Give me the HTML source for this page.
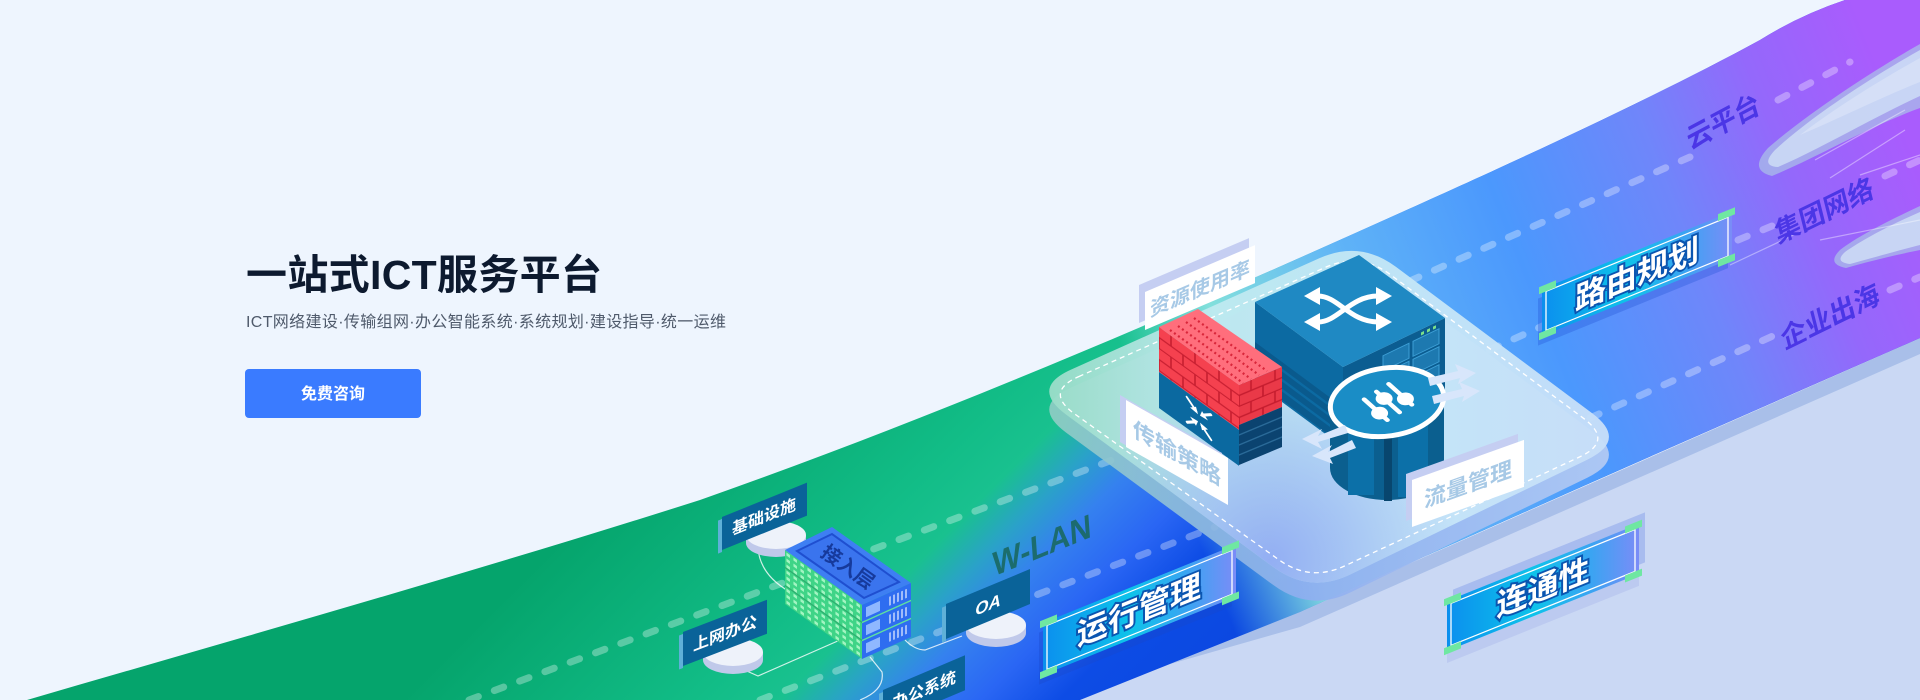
<!DOCTYPE html>
<html><head><meta charset="utf-8">
<style>
html,body{margin:0;padding:0;width:1920px;height:700px;overflow:hidden;background:#eef5fe;}
svg{display:block;}
text{font-family:"Liberation Sans","Noto Sans CJK SC",sans-serif;}
</style></head><body>
<svg width="1920" height="700" viewBox="0 0 1920 700" xmlns="http://www.w3.org/2000/svg">
<defs>
 <linearGradient id="g1" gradientUnits="userSpaceOnUse" x1="500" y1="500" x2="1000" y2="1000">
  <stop offset="0.10" stop-color="#05a46c"/>
  <stop offset="0.40" stop-color="#12bd87"/>
  <stop offset="0.48" stop-color="#19c18f"/>
  <stop offset="0.54" stop-color="#2aa2c8"/>
  <stop offset="0.60" stop-color="#3581ef"/>
  <stop offset="0.68" stop-color="#2a66f4"/>
  <stop offset="0.76" stop-color="#0d4ce5"/>
  <stop offset="1" stop-color="#0a44dc"/>
 </linearGradient>
 <linearGradient id="g2" gradientUnits="userSpaceOnUse" x1="1150" y1="420" x2="1900" y2="120">
  <stop offset="0" stop-color="#7fe0e0" stop-opacity="0"/>
  <stop offset="0.12" stop-color="#8ae4df" stop-opacity="0.92"/>
  <stop offset="0.30" stop-color="#5fb3f7" stop-opacity="1"/>
  <stop offset="0.50" stop-color="#4b98fd"/>
  <stop offset="0.70" stop-color="#6f86fa"/>
  <stop offset="0.85" stop-color="#9468fb"/>
  <stop offset="1" stop-color="#a95cfd"/>
 </linearGradient>
 <linearGradient id="pfg" gradientUnits="userSpaceOnUse" x1="1040" y1="0" x2="1620" y2="0">
  <stop offset="0" stop-color="#98dcc6"/>
  <stop offset="0.3" stop-color="#bfeaf0"/>
  <stop offset="0.7" stop-color="#c6e6f8"/>
  <stop offset="1" stop-color="#c8def9"/>
 </linearGradient>
 <radialGradient id="pfb" gradientUnits="userSpaceOnUse" cx="1270" cy="560" r="190">
  <stop offset="0" stop-color="#8ea8f3" stop-opacity="0.9"/>
  <stop offset="1" stop-color="#8ea8f3" stop-opacity="0"/>
 </radialGradient>
 <linearGradient id="pfs" gradientUnits="userSpaceOnUse" x1="1030" y1="0" x2="1630" y2="0">
  <stop offset="0" stop-color="#8fcfc0"/>
  <stop offset="0.45" stop-color="#8eaef0"/>
  <stop offset="1" stop-color="#b7cdf3"/>
 </linearGradient>
 <linearGradient id="bx" x1="0" y1="0" x2="1" y2="0">
  <stop offset="0" stop-color="#0b8fee"/>
  <stop offset="0.45" stop-color="#0ec3ea"/>
  <stop offset="0.75" stop-color="#3aa4f2"/>
  <stop offset="1" stop-color="#7b8cf7"/>
 </linearGradient>
 <pattern id="brick" width="24" height="22" patternUnits="userSpaceOnUse">
  <rect width="24" height="22" fill="#f5414f"/>
  <path d="M0,10.5 H24 M0,21.5 H24 M12,0 V11 M0,11 V22 M24,11 V22" stroke="#c81f31" stroke-width="1.6" fill="none"/>
 </pattern>
 <pattern id="dots" width="7" height="6" patternUnits="userSpaceOnUse">
  <rect width="7" height="6" fill="#3fd487"/>
  <rect x="1.5" y="1.5" width="3.5" height="3" fill="#a3f5c2"/>
 </pattern>
</defs>

<rect width="1920" height="700" fill="#eef5fe"/>

<!-- lavender ground + strip -->
<path d="M1048,700 L1300,625 L1920,351 L1920,700 Z" fill="#cad8f4"/>
<path d="M1080,700 L1300,612 L1920,338 L1920,354 L1300,627 L1044,700 Z" fill="#a9bfe9"/>

<!-- band -->
<path d="M27,700 C250,635 480,570 700,500 C933,418 1167,318 1400,213 C1500,168 1650,100 1760,40 Q1800,15 1845,0 L1920,0 L1920,338 Q1600,478 1300,612 L1080,700 Z" fill="url(#g1)"/>
<path d="M27,700 C250,635 480,570 700,500 C933,418 1167,318 1400,213 C1500,168 1650,100 1760,40 Q1800,15 1845,0 L1920,0 L1920,338 Q1600,478 1300,612 L1080,700 Z" fill="url(#g2)"/>

<!-- wings -->
<path d="M1920,44 C1860,78 1800,120 1768,148 Q1748,170 1772,176 C1820,156 1870,126 1920,108 Z" fill="#a9bee8" opacity="0.75"/>
<path d="M1920,50 C1860,84 1805,122 1775,150 Q1760,166 1778,167 C1822,148 1872,118 1920,96 Z" fill="#c9d7f4" opacity="0.95"/>
<path d="M1920,58 C1870,86 1830,112 1800,135 C1840,118 1880,98 1920,82 Z" fill="#d6e0f7" opacity="0.9"/>
<path d="M1920,206 C1890,220 1858,236 1840,250 Q1826,264 1846,268 C1870,261 1900,254 1920,250 Z" fill="#a9bee8" opacity="0.75"/>
<path d="M1920,212 C1890,225 1862,240 1845,252 Q1834,262 1850,264 C1872,258 1900,250 1920,245 Z" fill="#c9d7f4" opacity="0.95"/>
<g stroke="#ffffff" stroke-opacity="0.4" stroke-width="1.2">
 <path d="M1815,160 L1905,110"/>
 <path d="M1830,178 L1905,130"/>
 <path d="M1860,175 L1920,155"/>
 <path d="M1820,240 L1920,220"/>
 <path d="M1730,265 L1800,232"/>
</g>

<!-- dashed tracks -->
<g stroke="#ffffff" stroke-opacity="0.32" stroke-width="7" stroke-linecap="round" stroke-dasharray="10 17" fill="none">
 <path d="M469,700 L1131,453"/>
 <path d="M760,700 L1215,527"/>
 <path d="M1385,292 L1690,157"/>
 <path d="M1778,100 L1850,62"/>
 <path d="M1440,372 L1545,325"/>
 <path d="M1738,240 L1772,226"/>
 <path d="M1885,176 L1920,160"/>
 <path d="M1590,418 L1775,335"/>
 <path d="M1890,290 L1920,277"/>
</g>

<!-- right labels on band -->
<g font-weight="bold" font-size="27" fill="#4b36e6" text-anchor="middle">
 <text transform="translate(1723,121) rotate(-28) skewX(-12)" y="10">云平台</text>
 <text transform="translate(1824,210) rotate(-26) skewX(-12)" y="10">集团网络</text>
 <text transform="translate(1830,316) rotate(-26) skewX(-12)" y="10">企业出海</text>
</g>

<!-- 连通性 box -->
<g transform="translate(1447,601) skewY(-21.9)">
 <rect x="0" y="12" width="192" height="50" fill="#bccaf0"/>
 <rect x="6" y="-9" width="192" height="50" fill="#a8bcef"/>
 <rect x="0" y="0" width="192" height="50" fill="url(#bx)"/>
 <rect x="4" y="4" width="184" height="42" fill="none" stroke="#fff" stroke-width="1.3"/>
 <g fill="#6fe7a2">
  <rect x="-3" y="-3" width="17" height="7"/><rect x="-3" y="46" width="17" height="7"/>
  <rect x="178" y="-3" width="17" height="7"/><rect x="178" y="46" width="17" height="7"/>
 </g>
 <text x="96" y="36" text-anchor="middle" font-size="31" font-weight="bold" fill="#fff" stroke="#0b55b0" stroke-width="4" paint-order="stroke">连通性</text>
</g>

<!-- 路由规划 box -->
<g transform="translate(1542,289) skewY(-22.2)">
 <rect x="-4" y="8" width="190" height="47" fill="#2456d8" opacity="0.35"/>
 <rect x="0" y="0" width="190" height="47" fill="url(#bx)"/>
 <rect x="4" y="4" width="182" height="39" fill="none" stroke="#fff" stroke-width="1.3"/>
 <g fill="#6fe7a2">
  <rect x="-3" y="-3" width="17" height="7"/><rect x="-3" y="43" width="17" height="7"/>
  <rect x="176" y="-3" width="17" height="7"/><rect x="176" y="43" width="17" height="7"/>
 </g>
 <text x="95" y="35" text-anchor="middle" font-size="31" font-weight="bold" fill="#fff" stroke="#0b55b0" stroke-width="4" paint-order="stroke">路由规划</text>
</g>

<!-- platform -->
<path d="M1071.0,369.6 L1319.0,258.4 Q1360,240 1396.0,266.9 L1592.0,413.1 Q1628,440 1587.5,459.6 L1350.5,574.4 Q1310,594 1273.7,567.3 L1066.3,414.7 Q1030,388 1071.0,369.6 Z" transform="translate(0,18)" fill="url(#pfs)" opacity="0.92"/>
<path d="M1071.0,369.6 L1319.0,258.4 Q1360,240 1396.0,266.9 L1592.0,413.1 Q1628,440 1587.5,459.6 L1350.5,574.4 Q1310,594 1273.7,567.3 L1066.3,414.7 Q1030,388 1071.0,369.6 Z" fill="url(#pfg)" opacity="0.95"/>
<path d="M1071.0,369.6 L1319.0,258.4 Q1360,240 1396.0,266.9 L1592.0,413.1 Q1628,440 1587.5,459.6 L1350.5,574.4 Q1310,594 1273.7,567.3 L1066.3,414.7 Q1030,388 1071.0,369.6 Z" fill="url(#pfb)"/>
<path d="M1078.7,376.6 L1325.3,267.4 Q1360,252 1390.5,274.7 L1583.5,418.3 Q1614,441 1579.5,457.0 L1344.5,566.0 Q1310,582 1279.1,559.9 L1074.9,414.1 Q1044,392 1078.7,376.6 Z" fill="none" stroke="#ffffff" stroke-width="1.3" stroke-dasharray="5 4"/>

<!-- switch cube -->
<polygon points="1255,302 1343,367 1343,447 1255,382" fill="#0c6aa2"/>
<g transform="translate(1255,302) skewY(36.5)">
 <rect x="0" y="40" width="88" height="38" fill="#0a5a8d"/>
 <path d="M0,48 H88 M0,58 H88 M0,68 H88" stroke="#0c6aa2" stroke-width="3"/>
</g>
<polygon points="1343,367 1445,318 1445,398 1343,447" fill="#0b5d91"/>
<g transform="translate(1343,367) skewY(-25.7)">
 <g fill="#1d79b0" stroke="#3d9fd6" stroke-width="1">
  <rect x="40" y="8" width="26" height="15"/><rect x="70" y="8" width="26" height="15"/>
  <rect x="40" y="26" width="26" height="15"/><rect x="70" y="26" width="26" height="15"/>
  <rect x="40" y="44" width="26" height="15"/><rect x="70" y="44" width="26" height="15"/>
 </g>
 <g fill="#7be08a"><rect x="78" y="3" width="3" height="3"/><rect x="84" y="3" width="3" height="3"/><rect x="90" y="3" width="3" height="3"/></g>
 <path d="M4,20 H36 M4,30 H36 M4,40 H36" stroke="#0a4f7d" stroke-width="3"/>
</g>
<polygon points="1255,302 1359,255 1445,318 1343,367" fill="#1f89c3"/>
<g stroke="#fff" stroke-width="5" fill="none" stroke-linecap="round">
 <path d="M1318,296 C1338,296 1350,322 1378,322"/>
 <path d="M1318,322 C1338,322 1350,296 1378,296"/>
</g>
<g fill="#fff">
 <polygon points="1376,287 1392,296 1376,305"/><polygon points="1376,313 1392,322 1376,331"/>
 <polygon points="1320,287 1304,296 1320,305"/><polygon points="1320,313 1304,322 1320,331"/>
</g>

<!-- 资源使用率 label (behind firewall) -->
<g transform="translate(1139,285) skewY(-23.1)"><rect width="110" height="38" fill="#c5cef2"/></g>
<g transform="translate(1145,292) skewY(-23.1)">
 <rect width="110" height="38" fill="#ffffff"/>
 <text x="55" y="27" text-anchor="middle" font-size="20" font-weight="bold" fill="#a7c9e6">资源使用率</text>
</g>

<!-- firewall -->
<g transform="translate(1159,327) skewY(35.9)">
 <rect x="0" y="0" width="80" height="45" fill="url(#brick)"/>
 <rect x="0" y="45" width="80" height="36" fill="#0b69a0"/>
 <g stroke="#fff" stroke-width="2.5" fill="none" stroke-linecap="round">
  <path d="M28,50 L37,57 M52,75 L43,68 M52,50 L43,57 M28,75 L37,68"/>
 </g>
 <g fill="#fff">
  <polygon points="39,59 31,58 37,53"/>
  <polygon points="41,66 49,67 43,72"/>
  <polygon points="41,59 49,58 43,53"/>
  <polygon points="39,66 31,67 37,72"/>
 </g>
</g>
<g transform="translate(1239,385) skewY(-22.7)">
 <rect x="0" y="0" width="43" height="40" fill="url(#brick)"/>
 <rect x="0" y="0" width="43" height="40" fill="#b0101f" opacity="0.15"/>
 <rect x="0" y="40" width="43" height="40" fill="#0b4370"/>
 <path d="M0,50 H43 M0,60 H43 M0,70 H43" stroke="#2a6a98" stroke-width="1.5"/>
</g>
<polygon points="1159,327 1198,309 1282,367 1239,385" fill="#ff6e7c"/>
<g stroke="#d9263a" stroke-width="2.2" stroke-dasharray="2 3">
 <path d="M1170,330 L1243,383"/>
 <path d="M1178,326 L1251,379"/>
 <path d="M1186,322 L1259,375"/>
 <path d="M1194,318 L1267,371"/>
</g>

<!-- router cylinder -->
<path d="M1330,402 L1330,468 A57,32 0 0 0 1444,468 L1444,402 Z" fill="#0b5f8f"/>
<rect x="1348" y="405" width="26" height="90" fill="#0c70a8"/>
<rect x="1384" y="405" width="8" height="96" fill="#08466e"/>
<rect x="1398" y="405" width="30" height="92" fill="#0c70a8"/>
<ellipse cx="1387" cy="402" rx="57" ry="34" fill="#1a8dc6" stroke="#ffffff" stroke-width="5" transform="rotate(-8 1387 402)"/>
<g transform="translate(1388,402) scale(1,0.75) rotate(-40)" stroke="#fff" stroke-width="5" stroke-linecap="round" fill="#fff">
 <path d="M-16,-18 V18 M0,-18 V18 M16,-18 V18"/>
 <circle cx="-16" cy="6" r="6"/><circle cx="0" cy="-6" r="6"/><circle cx="16" cy="8" r="6"/>
</g>
<g fill="#d8e6fb">
 <path d="M1345,425 L1318,436 L1322,429 L1302,439 L1322,449 L1318,442 L1348,433 Z"/>
 <path d="M1352,440 L1328,452 L1332,445 L1312,456 L1333,464 L1330,458 L1356,448 Z"/>
 <path d="M1428,378 L1458,371 L1455,364 L1476,373 L1458,384 L1460,378 L1430,386 Z"/>
 <path d="M1432,396 L1462,389 L1459,382 L1480,391 L1462,402 L1464,396 L1434,404 Z"/>
</g>

<!-- 传输策略 label -->
<g transform="translate(1120,395) skewY(29.6)"><rect width="102" height="47" fill="#c5cef2"/></g>
<g transform="translate(1126,400) skewY(29.6)">
 <rect width="102" height="47" fill="#ffffff"/>
 <text x="51" y="32" text-anchor="middle" font-size="22" font-weight="bold" fill="#a7c9e6">传输策略</text>
</g>

<!-- 流量管理 label -->
<g transform="translate(1406,474) skewY(-19.7)"><rect width="112" height="47" fill="#c5cef2"/></g>
<g transform="translate(1412,480) skewY(-19.7)">
 <rect width="112" height="47" fill="#ffffff"/>
 <text x="56" y="32" text-anchor="middle" font-size="22" font-weight="bold" fill="#a7c9e6">流量管理</text>
</g>

<!-- W-LAN -->
<text transform="translate(1042,545) rotate(-22) skewX(-18)" y="11" text-anchor="middle" font-size="32" font-weight="bold" fill="#1a6860" fill-opacity="0.9">W-LAN</text>

<!-- connector lines -->
<g stroke="#ffffff" stroke-opacity="0.8" stroke-width="1.2" fill="none">
 <path d="M758,548 Q760,575 790,592"/>
 <path d="M740,668 L758,676 L840,640"/>
 <path d="M905,640 Q915,650 925,650 L962,636"/>
 <path d="M870,657 L882,672 Q885,690 860,700"/>
</g>

<!-- pucks -->
<g>
 <ellipse cx="776" cy="543" rx="30" ry="14" fill="#c0c9ea"/>
 <rect x="746" y="535" width="60" height="8" fill="#c0c9ea"/>
 <ellipse cx="776" cy="535" rx="30" ry="14" fill="#eef2fa"/>
 <ellipse cx="733" cy="660" rx="30" ry="14" fill="#c0c9ea"/>
 <rect x="703" y="652" width="60" height="8" fill="#c0c9ea"/>
 <ellipse cx="733" cy="652" rx="30" ry="14" fill="#eef2fa"/>
 <ellipse cx="996" cy="633" rx="30" ry="14" fill="#c0c9ea"/>
 <rect x="966" y="625" width="60" height="8" fill="#c0c9ea"/>
 <ellipse cx="996" cy="625" rx="30" ry="14" fill="#eef2fa"/>
</g>

<!-- small dark labels -->
<g transform="translate(722,517) skewY(-22)">
 <rect x="-4" y="2" width="4" height="33" fill="#5fb0d8"/>
 <rect width="85" height="33" fill="#0a6399"/>
 <text x="42" y="22" text-anchor="middle" font-size="16" font-weight="bold" fill="#fff">基础设施</text>
</g>
<g transform="translate(683,632) skewY(-21)">
 <rect x="-4" y="2" width="4" height="34" fill="#5fb0d8"/>
 <rect width="84" height="34" fill="#0a6399"/>
 <text x="42" y="23" text-anchor="middle" font-size="16" font-weight="bold" fill="#fff">上网办公</text>
</g>
<g transform="translate(946,604) skewY(-22.6)">
 <rect x="-4" y="2" width="4" height="35" fill="#5fb0d8"/>
 <rect width="84" height="35" fill="#0a6399"/>
 <text x="42" y="24" text-anchor="middle" font-size="17" font-style="italic" font-weight="bold" fill="#fff">OA</text>
</g>
<g transform="translate(883,690) skewY(-23)">
 <rect x="-4" y="2" width="4" height="35" fill="#5fb0d8"/>
 <rect width="82" height="35" fill="#0a6399"/>
 <text x="41" y="23" text-anchor="middle" font-size="16" font-weight="bold" fill="#fff">办公系统</text>
</g>

<!-- access stack -->
<g transform="translate(785,550) skewY(35.5)">
 <rect x="0" y="0" width="77" height="17" fill="url(#dots)"/>
 <rect x="0" y="18" width="77" height="17" fill="url(#dots)"/>
 <rect x="0" y="36" width="77" height="18" fill="url(#dots)"/>
 <path d="M0,17.5 H77 M0,35.5 H77" stroke="#2fae6f" stroke-width="1.5"/>
</g>
<g transform="translate(862,605) skewY(-24.2)">
 <rect x="0" y="0" width="49" height="17" fill="#2e6df0"/>
 <rect x="0" y="18" width="49" height="17" fill="#2e6df0"/>
 <rect x="0" y="36" width="49" height="18" fill="#2e6df0"/>
 <path d="M0,17.5 H49 M0,35.5 H49" stroke="#5fe0a0" stroke-width="1.5"/>
 <g fill="#8fb8ff">
  <rect x="4" y="4" width="14" height="10"/><rect x="4" y="22" width="14" height="10"/><rect x="4" y="40" width="14" height="10"/>
 </g>
 <g stroke="#dfe8ff" stroke-width="1.3">
  <path d="M28,4 V13 M32,4 V13 M36,4 V13 M40,4 V13 M44,4 V13"/>
  <path d="M28,22 V31 M32,22 V31 M36,22 V31 M40,22 V31 M44,22 V31"/>
  <path d="M28,40 V49 M32,40 V49 M36,40 V49 M40,40 V49 M44,40 V49"/>
 </g>
</g>
<polygon points="785,550 832,527 911,583 862,605" fill="#3e7ff3"/>
<polygon points="797,551 832,534 899,582 864,598" fill="#3a74ee" stroke="#1f4fd0" stroke-width="2"/>
<text transform="translate(848,567) rotate(35.5)" y="7" text-anchor="middle" font-size="20" font-weight="bold" fill="#163a9c">接入层</text>

<!-- 运行管理 box -->
<g transform="translate(1043,623) skewY(-22.1)">
 <rect x="-4" y="8" width="193" height="52" fill="#1a48c8" opacity="0.35"/>
 <rect x="0" y="0" width="193" height="52" fill="url(#bx)"/>
 <rect x="4" y="4" width="185" height="44" fill="none" stroke="#fff" stroke-width="1.3"/>
 <g fill="#6fe7a2">
  <rect x="-3" y="-3" width="17" height="7"/><rect x="-3" y="48" width="17" height="7"/>
  <rect x="179" y="-3" width="17" height="7"/><rect x="179" y="48" width="17" height="7"/>
 </g>
 <text x="96" y="37" text-anchor="middle" font-size="31" font-weight="bold" fill="#fff" stroke="#0b55b0" stroke-width="4" paint-order="stroke">运行管理</text>
</g>

<!-- left text -->
<text x="246" y="289" font-size="41" font-weight="bold" fill="#0d1a2f" textLength="356" lengthAdjust="spacing">一站式ICT服务平台</text>
<text x="246" y="327" font-size="16" fill="#4f5a6b" textLength="480" lengthAdjust="spacing">ICT网络建设·传输组网·办公智能系统·系统规划·建设指导·统一运维</text>
<rect x="245" y="369" width="176" height="49" rx="4" fill="#3a7bff"/>
<text x="333" y="399" text-anchor="middle" font-size="16" font-weight="bold" fill="#ffffff">免费咨询</text>
</svg>
</body></html>
